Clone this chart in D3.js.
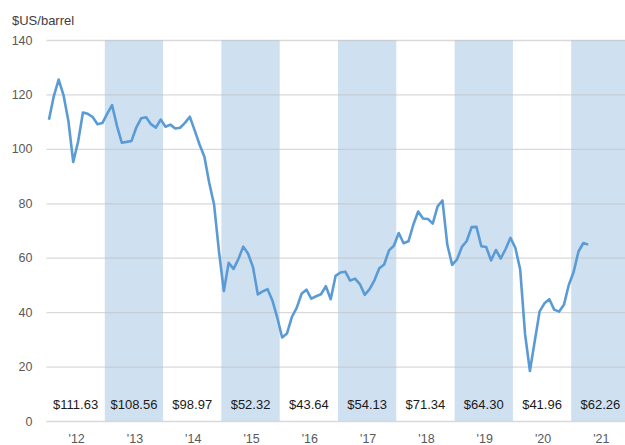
<!DOCTYPE html>
<html>
<head>
<meta charset="utf-8">
<script src="https://cdn.jsdelivr.net/npm/d3@7"></script>
<style>
  html, body { margin: 0; padding: 0; background: #fff; }
  svg { display: block; font-family: "Liberation Sans", Arial, sans-serif; }
</style>
</head>
<body>
<svg id="chart" width="625" height="445"></svg>
<script>
// ---- Data ----
const years = [2012, 2013, 2014, 2015, 2016, 2017, 2018, 2019, 2020, 2021];
const yearLabels = ["'12", "'13", "'14", "'15", "'16", "'17", "'18", "'19", "'20", "'21"];
const yearAverages = ["$111.63", "$108.56", "$98.97", "$52.32", "$43.64", "$54.13", "$71.34", "$64.30", "$41.96", "$62.26"];
const shadedYears = [2013, 2015, 2017, 2019, 2021];
const yTicks = [0, 20, 40, 60, 80, 100, 120, 140];

// Monthly Brent price, Jan 2012 – Apr 2021
const prices2012 = [110.69, 119.33, 125.45, 119.75, 110.34, 95.16, 102.62, 113.36, 112.86, 111.71, 109.06, 109.49];
const prices2013 = [112.96, 116.05, 108.47, 102.25, 102.56, 102.92, 107.93, 111.28, 111.60, 109.08, 107.79, 110.76];
const prices2014 = [108.12, 108.90, 107.48, 107.76, 109.54, 111.80, 106.77, 101.61, 97.09, 87.43, 79.44, 62.34];
const prices2015 = [47.76, 58.10, 55.89, 59.52, 64.08, 61.48, 56.56, 46.52, 47.62, 48.43, 44.27, 38.01];
const prices2016 = [30.70, 32.18, 38.21, 41.58, 46.74, 48.25, 44.95, 45.84, 46.57, 49.52, 44.73, 53.31];
const prices2017 = [54.58, 54.87, 51.59, 52.31, 50.33, 46.37, 48.48, 51.70, 56.15, 57.51, 62.71, 64.37];
const prices2018 = [69.08, 65.32, 66.02, 72.11, 76.98, 74.41, 74.25, 72.53, 78.89, 81.03, 64.75, 57.36];
const prices2019 = [59.41, 63.96, 66.14, 71.23, 71.32, 64.22, 63.92, 59.04, 62.83, 59.71, 63.21, 67.31];
const prices2020 = [63.65, 55.66, 32.01, 18.38, 29.38, 40.27, 43.24, 44.74, 40.91, 40.19, 42.69, 49.99];
const prices2021 = [54.77, 62.28, 65.41, 64.81];

const monthly = [].concat(prices2012, prices2013, prices2014, prices2015, prices2016,
                          prices2017, prices2018, prices2019, prices2020, prices2021);

// ---- Layout ----
const W = 625, H = 445;
const plotLeft = 46.5, plotRight = 625, plotTop = 40, plotBottom = 421;
const yearWidth = 58.3;

const svg = d3.select("#chart");

// x scale in months since Jan 2012
const x = d3.scaleLinear()
  .domain([0, 12])
  .range([plotLeft, plotLeft + yearWidth]);
const y = d3.scaleLinear().domain([0, 140]).range([plotBottom, plotTop]);

// Shaded bands
svg.append("g").selectAll("rect")
  .data(shadedYears)
  .join("rect")
  .attr("x", d => x((d - 2012) * 12))
  .attr("y", y(140))
  .attr("width", d => Math.min(x((d - 2012 + 1) * 12), plotRight) - x((d - 2012) * 12))
  .attr("height", y(0) - y(140))
  .attr("fill", "#cfe0f1");

// Gridlines
const yAxis = d3.axisLeft(y).tickValues(yTicks).tickSize(-(plotRight - plotLeft)).tickPadding(14);
const gy = svg.append("g")
  .attr("transform", `translate(${plotLeft},0)`)
  .call(yAxis);
gy.select(".domain").remove();
gy.selectAll(".tick line")
  .attr("stroke", "#bfbfbf")
  .attr("stroke-opacity", 0.6)
  .attr("stroke-width", 1.3);
gy.selectAll(".tick text")
  .attr("fill", "#595959")
  .attr("font-size", "12.5px")
  .attr("font-family", "Liberation Sans, Arial, sans-serif");

// Title
svg.append("text")
  .attr("x", 12)
  .attr("y", 25)
  .attr("fill", "#404040")
  .attr("font-size", "13px")
  .text("$US/barrel");

// Price line
const line = d3.line()
  .x((d, i) => x(i + 0.5))
  .y(d => y(d));
svg.append("path")
  .datum(monthly)
  .attr("d", line)
  .attr("fill", "none")
  .attr("stroke", "#5b9bd5")
  .attr("stroke-width", 2.6)
  .attr("stroke-linejoin", "round");

// Year average labels
svg.append("g").selectAll("text")
  .data(years)
  .join("text")
  .attr("x", (d, i) => x(i * 12 + 6))
  .attr("y", 404)
  .attr("dy", "0.35em")
  .attr("text-anchor", "middle")
  .attr("fill", "#1a1a1a")
  .attr("font-size", "13px")
  .text((d, i) => yearAverages[i]);

// Year axis labels
svg.append("g").selectAll("text")
  .data(years)
  .join("text")
  .attr("x", (d, i) => x(i * 12 + 6) + 1)
  .attr("y", 439)
  .attr("dy", "0.35em")
  .attr("text-anchor", "middle")
  .attr("fill", "#595959")
  .attr("font-size", "12.5px")
  .text((d, i) => yearLabels[i]);
</script>
</body>
</html>
